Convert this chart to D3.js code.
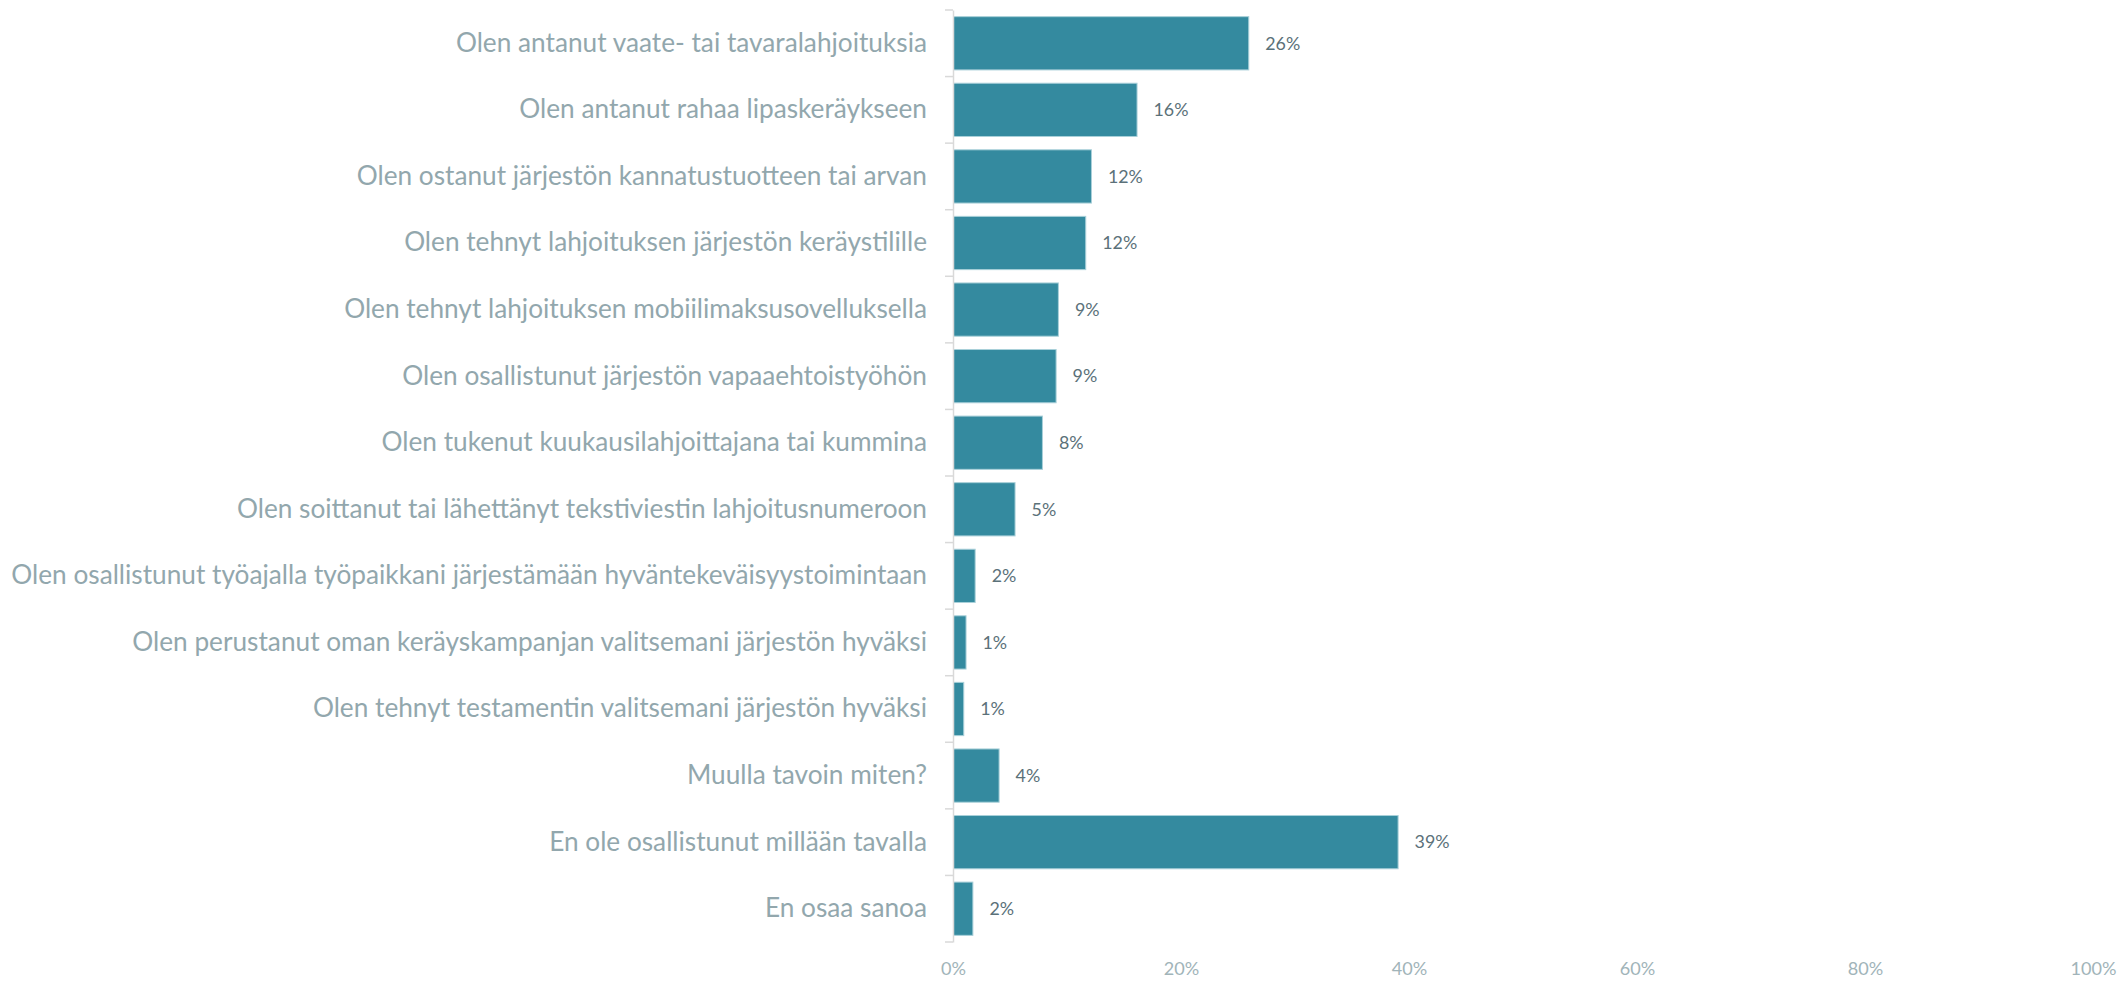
<!DOCTYPE html>
<html>
<head>
<meta charset="utf-8">
<script src="https://cdn.jsdelivr.net/npm/d3@7/dist/d3.min.js"></script>
<style>
  html, body { margin: 0; padding: 0; background: #ffffff; }
  svg { display: block; }
</style>
</head>
<body>
<svg id="chart" width="2121" height="981"></svg>
<script>
const categories = [
  "Olen antanut vaate- tai tavaralahjoituksia",
  "Olen antanut rahaa lipaskeräykseen",
  "Olen ostanut järjestön kannatustuotteen tai arvan",
  "Olen tehnyt lahjoituksen järjestön keräystilille",
  "Olen tehnyt lahjoituksen mobiilimaksusovelluksella",
  "Olen osallistunut järjestön vapaaehtoistyöhön",
  "Olen tukenut kuukausilahjoittajana tai kummina",
  "Olen soittanut tai lähettänyt tekstiviestin lahjoitusnumeroon",
  "Olen osallistunut työajalla työpaikkani järjestämään hyväntekeväisyystoimintaan",
  "Olen perustanut oman keräyskampanjan valitsemani järjestön hyväksi",
  "Olen tehnyt testamentin valitsemani järjestön hyväksi",
  "Muulla tavoin miten?",
  "En ole osallistunut millään tavalla",
  "En osaa sanoa"
];
const values = [25.9, 16.1, 12.1, 11.6, 9.2, 9.0, 7.8, 5.4, 1.9, 1.1, 0.9, 4.0, 39.0, 1.7];
const valueLabels = ["26%", "16%", "12%", "12%", "9%", "9%", "8%", "5%", "2%", "1%", "1%", "4%", "39%", "2%"];
const xTicks = [0, 20, 40, 60, 80, 100];

const svg = d3.select("#chart");
const x0 = 953, x1 = 2093;
const yTop = 10, yBottom = 942;

const x = d3.scaleLinear().domain([0, 100]).range([x0, x1]);
const y = d3.scaleBand().domain(categories).range([yTop, yBottom]).paddingInner(0.2).paddingOuter(0.1);

const font = "Lato, 'Open Sans', sans-serif";

// bars
svg.append("g").selectAll("rect").data(categories).join("rect")
  .attr("x", x(0) + 0.5)
  .attr("y", d => y(d))
  .attr("width", (d, i) => x(values[i]) - x(0))
  .attr("height", y.bandwidth())
  .attr("fill", "#348a9f")
  .attr("stroke", "#a9d0d9")
  .attr("stroke-width", 1);

// y axis
const yAxis = svg.append("g")
  .attr("transform", `translate(${x0},0)`)
  .call(d3.axisLeft(y).tickSize(0).tickPadding(26));
yAxis.select(".domain").attr("stroke", "#d9d9d9").attr("stroke-width", 1.5);
yAxis.selectAll(".tick text")
  .attr("fill", "#92a7ad")
  .style("font-family", font)
  .style("font-size", "24px");

// band boundary ticks
const bounds = d3.range(categories.length + 1).map(i => yTop + i * y.step() - (i === 0 ? 0 : 0));
svg.append("g").selectAll("line").data(d3.range(categories.length + 1)).join("line")
  .attr("x1", x0 - 8).attr("x2", x0)
  .attr("y1", i => i === 0 ? yTop : (i === categories.length ? yBottom : y(categories[i]) - y.step() * y.paddingInner() / 2))
  .attr("y2", i => i === 0 ? yTop : (i === categories.length ? yBottom : y(categories[i]) - y.step() * y.paddingInner() / 2))
  .attr("stroke", "#d9d9d9").attr("stroke-width", 1.5);

// fit category font size to target width of longest label
const ticksText = yAxis.selectAll(".tick text");
let maxW = 0;
ticksText.each(function() { maxW = Math.max(maxW, this.getComputedTextLength()); });
const catSize = 24 * 916 / maxW;
ticksText.style("font-size", catSize + "px");

// value labels
const vl = svg.append("g").selectAll("text").data(categories).join("text")
  .attr("x", (d, i) => x(values[i]) + 17)
  .attr("y", d => y(d) + y.bandwidth() / 2)
  .attr("dy", "0.35em")
  .attr("fill", "#5b7179")
  .style("font-family", font)
  .style("font-size", "20px")
  .text((d, i) => valueLabels[i]);
const w26 = vl.nodes()[0].getComputedTextLength();
vl.style("font-size", (20 * 35 / w26) + "px");

// x axis
const xAxis = svg.append("g")
  .attr("transform", `translate(0,${yBottom})`)
  .call(d3.axisBottom(x).tickValues(xTicks).tickSize(0).tickPadding(20).tickFormat(d => d + "%"));
xAxis.select(".domain").remove();
const xt = xAxis.selectAll(".tick text")
  .attr("fill", "#a1b4b9")
  .style("font-family", font)
  .style("font-size", "20px");
const w100 = xt.nodes()[5].getComputedTextLength();
xt.style("font-size", (20 * 46 / w100) + "px");
</script>
</body>
</html>
